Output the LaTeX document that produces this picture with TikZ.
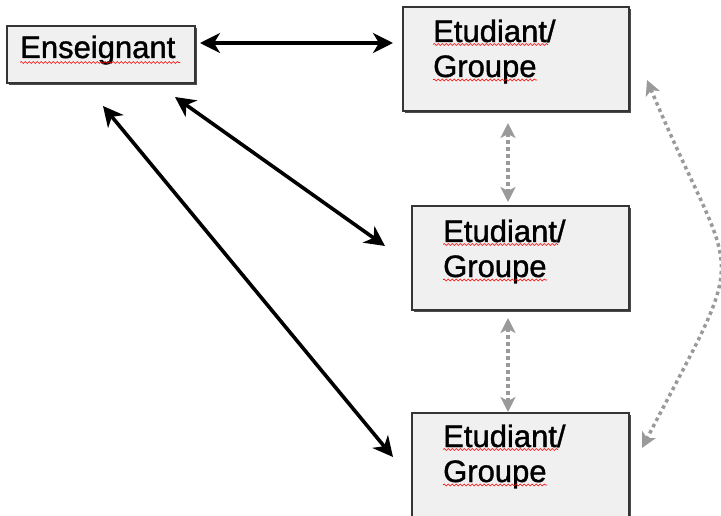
\documentclass[tikz,border=0pt]{standalone}
\usepackage{fontspec}
\setmainfont{Liberation Sans}
\newfontfamily\lblfont{Liberation Sans}[FakeBold=1.2]
\usetikzlibrary{arrows.meta,shadows,decorations.pathmorphing}
\definecolor{boxfill}{HTML}{F0F0F0}
\definecolor{boxline}{HTML}{353535}
\definecolor{dotgray}{HTML}{9A9A9A}
\begin{document}
\begin{tikzpicture}[x=1pt,y=-1pt,
  box/.style={draw=boxline, line width=1.4pt, fill=boxfill, rectangle, inner sep=0pt,
    drop shadow={shadow xshift=1.8pt, shadow yshift=-1.8pt, fill=black!70, opacity=1}},
  lbl/.style={anchor=base west, inner sep=0pt, font=\lblfont\fontsize{31}{37}\selectfont},
  blackarrow/.style={line width=3.6pt, draw=black,
    {Stealth[length=20pt,width=20pt,inset=6pt]}-{Stealth[length=20pt,width=20pt,inset=6pt]}},
  grayarrow/.style={line width=3.5pt, draw=dotgray, dash pattern=on 3.5pt off 3.5pt,
    {Stealth[length=15pt,width=15pt,inset=4pt,fill=dotgray]}-{Stealth[length=15pt,width=15pt,inset=4pt,fill=dotgray]}},
  spell/.style={draw=red, line width=0.6pt, decorate,
    decoration={snake, segment length=4pt, amplitude=1pt}}]
\useasboundingbox[fill=white] (0,0) rectangle (721,516);

% boxes
\node[box, minimum width=188pt, minimum height=57pt] (ens) at (101,54.5) {};
\node[box, minimum width=226pt, minimum height=104pt] (e1) at (516,59) {};
\node[box, minimum width=217pt, minimum height=104pt] (e2) at (520.5,258) {};
\node[box, minimum width=217pt, minimum height=108pt] (e3) at (520.5,467) {};

% texts
\node[lbl] (tens) at (20,58) {Enseignant};
\node[lbl] (t1a) at (433,42) {Etudiant/};
\node[lbl] (t1b) at (433,77) {Groupe};
\node[lbl] (t2a) at (443,242) {Etudiant/};
\node[lbl] (t2b) at (443,277) {Groupe};
\node[lbl] (t3a) at (443,447) {Etudiant/};
\node[lbl] (t3b) at (443,482) {Groupe};

% spell-check underlines
\draw[spell] (20,62.5) -- (180,62.5);
\draw[spell] (433,44.5) -- (548,44.5);
\draw[spell] (433,80) -- (537,80);
\draw[spell] (443,244.5) -- (558,244.5);
\draw[spell] (443,280) -- (547,280);
\draw[spell] (443,449.5) -- (558,449.5);
\draw[spell] (443,485) -- (547,485);

% connector end points
\coordinate (a1s) at (200,43);
\coordinate (a1e) at (393,43);
\coordinate (a2s) at (175,97);
\coordinate (a2e) at (385,246);
\coordinate (a3s) at (103,106);
\coordinate (a3e) at (393,457);
\coordinate (d1s) at (508,123);
\coordinate (d1e) at (508,202);
\coordinate (d2s) at (508,318);
\coordinate (d2e) at (508,412);
\coordinate (cs) at (647,80);
\coordinate (ce) at (642,448);

% black connectors
\draw[blackarrow] (a1s) -- (a1e);
\draw[blackarrow] (a2s) -- (a2e);
\draw[blackarrow] (a3s) -- (a3e);

% gray dotted connectors
\draw[grayarrow] (d1s) -- (d1e);
\draw[grayarrow] (d2s) -- (d2e);
\draw[grayarrow] (cs) .. controls (737,295) and (754,233) .. (ce);
\end{tikzpicture}
\end{document}
